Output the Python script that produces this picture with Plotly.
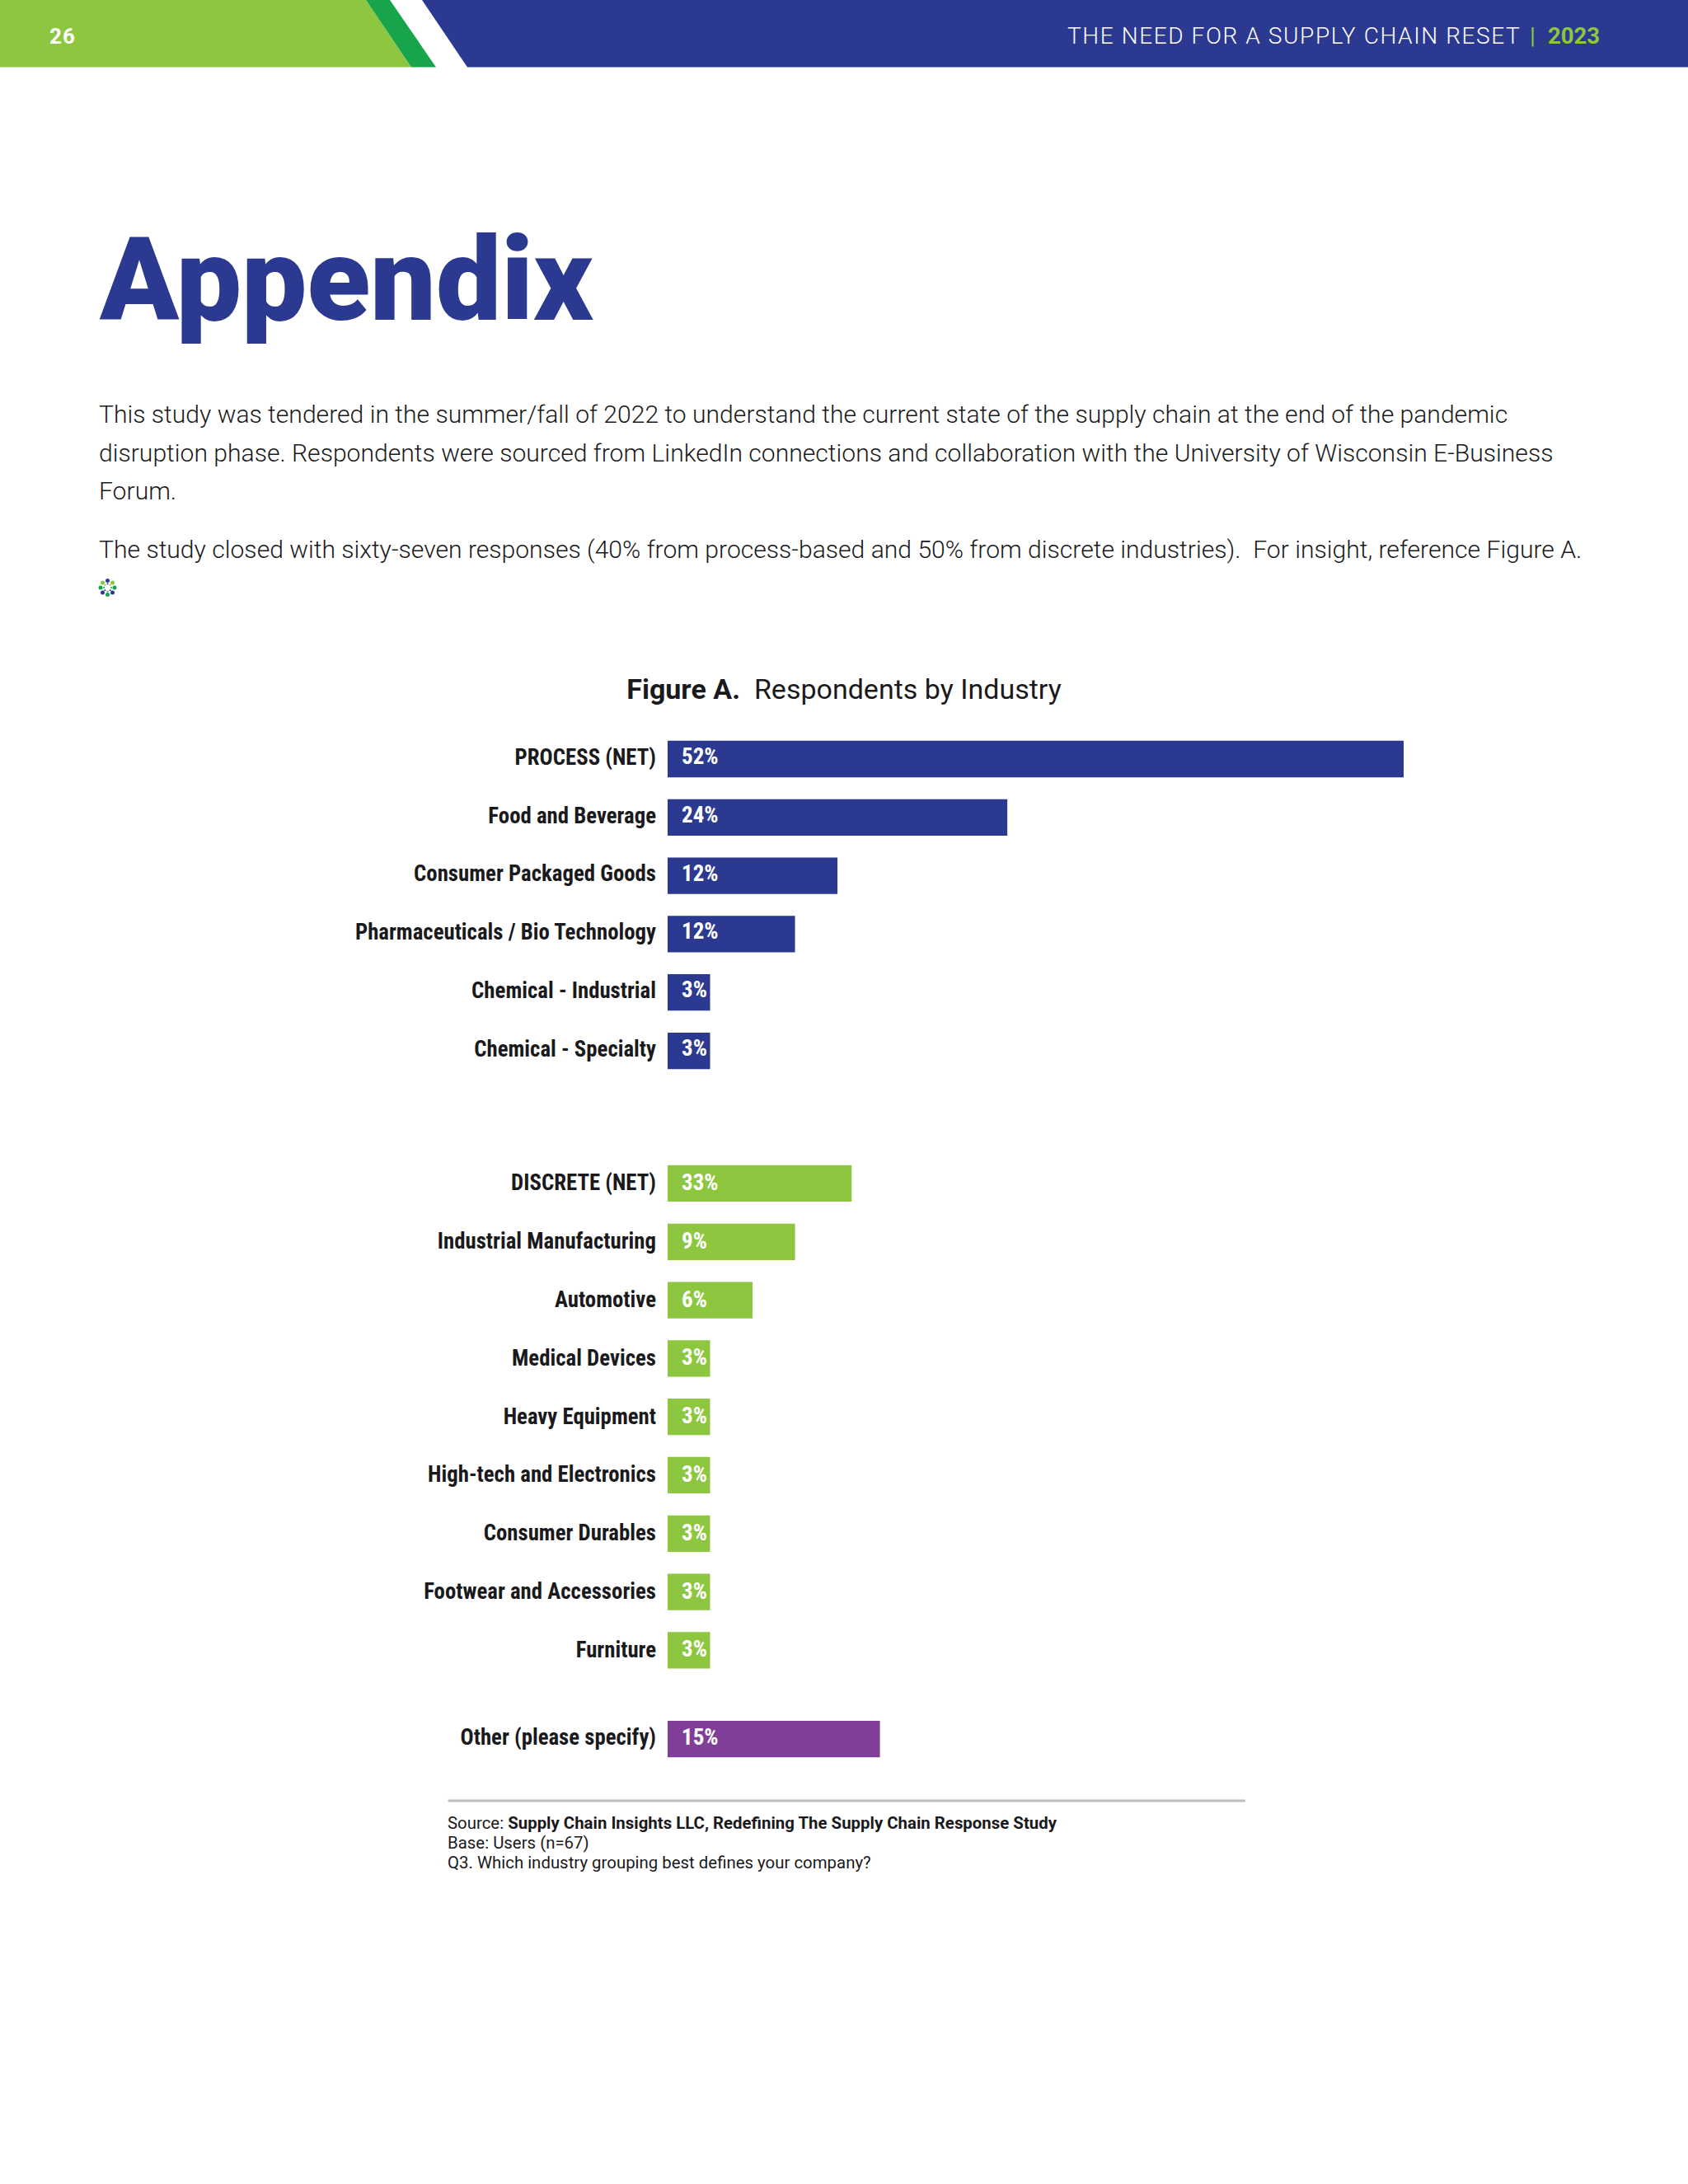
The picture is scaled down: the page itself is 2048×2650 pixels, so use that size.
import math
import plotly.graph_objects as go

W, H = 2048, 2650

process_categories = ["PROCESS (NET)", "Food and Beverage", "Consumer Packaged Goods",
                      "Pharmaceuticals / Bio Technology", "Chemical - Industrial", "Chemical - Specialty"]
process_values = [52, 24, 12, 9, 3, 3]
process_labels = ["52%", "24%", "12%", "12%", "3%", "3%"]

discrete_categories = ["DISCRETE (NET)", "Industrial Manufacturing", "Automotive", "Medical Devices",
                       "Heavy Equipment", "High-tech and Electronics", "Consumer Durables",
                       "Footwear and Accessories", "Furniture"]
discrete_values = [13, 9, 6, 3, 3, 3, 3, 3, 3]
discrete_labels = ["33%", "9%", "6%", "3%", "3%", "3%", "3%", "3%", "3%"]

other_categories = ["Other (please specify)"]
other_values = [15]
other_labels = ["15%"]

NAVY, GREEN, DGREEN, PURPLE = "#2B3990", "#8DC63F", "#17A44B", "#7F3F98"
INK = "#1A1A1C"
FONT = "Roboto"

def px(x): return x / W
def py(y): return 1 - y / H

PITCH = 70.8
groups = [
    (process_categories, process_values, process_labels, NAVY, 921.0, "y", 3),
    (discrete_categories, discrete_values, discrete_labels, GREEN, 1436.0, "y2", 1),
    (other_categories, other_values, other_labels, PURPLE, 2110.0, "y3", 2),
]

fig = go.Figure()
annotations = []
layout_axes = {}
for cats, vals, labs, color, first_center, yname, label_shift in groups:
    fig.add_trace(go.Bar(y=cats, x=vals, orientation="h", marker=dict(color=color, line=dict(width=0)),
                         xaxis="x", yaxis=yname, width=0.625, hoverinfo="skip"))
    top = first_center - PITCH / 2
    bottom = top + PITCH * len(cats)
    key = "yaxis" if yname == "y" else "yaxis" + yname[1:]
    layout_axes[key] = dict(domain=[py(bottom), py(top)], anchor="x", autorange="reversed",
                            type="category", showgrid=False, zeroline=False, showline=False,
                            ticks="", ticklabelstandoff=13,
                            tickfont=dict(family=FONT, size=26.8, color=INK, weight=700))
    for c, l in zip(cats, labs):
        annotations.append(dict(xref="x", yref=yname, x=0, y=c, text=l, showarrow=False, xanchor="left",
                                align="left", xshift=15, yshift=label_shift,
                                font=dict(family=FONT, size=27, color="white", weight=700)))

def note(x, y, text, size, color=INK, family="Roboto", weight=300):
    annotations.append(dict(xref="paper", yref="paper", x=px(x), y=py(y), text=text, showarrow=False,
                            xanchor="left", yanchor="middle", align="left", borderpad=0, borderwidth=0,
                            font=dict(family=family, size=size, color=color, weight=weight)))

note(60, 44, "26", 26, "white", weight=700)
note(1295, 44, "THE NEED FOR A SUPPLY CHAIN RESET", 28, "white", weight=300)
note(1856, 44, "|", 28, GREEN, weight=400)
note(1878, 44, "2023", 27.5, GREEN, weight=700)
note(120, 340, "Appendix", 141, NAVY, weight=900)

BODY = 30.1
note(120, 502, "This study was tendered in the summer/fall of 2022 to understand the current state of the supply chain at the end of the pandemic", BODY)
note(120, 549, "disruption phase. Respondents were sourced from LinkedIn connections and collaboration with the University of Wisconsin E-Business", BODY)
note(120, 595, "Forum.", BODY)
note(120, 667, "The study closed with sixty-seven responses (40% from process-based and 50% from discrete industries).\u00a0\u00a0For insight, reference Figure A.", BODY)

note(543, 2212, "Source: <b>Supply Chain Insights LLC, Redefining The Supply Chain Response Study</b>", 20.4, weight=400)
note(543, 2236, "Base: Users (n=67)", 20.4, weight=400)
note(543, 2260, "Q3. Which industry grouping best defines your company?", 20.4, weight=400)

def poly(points, color):
    path = "M " + " L ".join(f"{px(x)},{py(y)}" for x, y in points) + " Z"
    return dict(type="path", xref="paper", yref="paper", path=path, fillcolor=color, line=dict(width=0), layer="below")

HB = 81.5
shapes = [
    poly([(0, 0), (444, 0), (499, HB), (0, HB)], GREEN),
    poly([(444, 0), (473, 0), (529, HB), (499, HB)], DGREEN),
    poly([(512, 0), (W, 0), (W, HB), (567, HB)], NAVY),
    dict(type="line", xref="paper", yref="paper", x0=px(543.5), x1=px(1511), y0=py(2185), y1=py(2185),
         line=dict(color="#BCBEC0", width=3)),
]

# small decorative snowflake mark after the body text
cx, cy = 130.5, 713
flake = [NAVY, GREEN, DGREEN, NAVY, DGREEN, NAVY, DGREEN, GREEN]
for i, col in enumerate(flake):
    a = math.radians(90 - 45 * i)
    for r, s in ((8.5, 2.5), (4.5, 1.0)):
        x = cx + r * math.cos(a)
        y = cy - r * math.sin(a)
        shapes.append(dict(type="circle", xref="paper", yref="paper", x0=px(x - s), x1=px(x + s),
                           y0=py(y + s), y1=py(y - s), fillcolor=col, line=dict(width=0)))

fig.update_layout(
    width=W, height=H, margin=dict(l=0, r=0, t=0, b=0, pad=0),
    paper_bgcolor="white", plot_bgcolor="white", showlegend=False, hovermode=False,
    title=dict(text="<b>Figure A.</b>\u00a0\u00a0Respondents by Industry", x=1024 / W, xanchor="center", xref="paper",
               y=py(836), yanchor="middle", yref="paper",
               font=dict(family="Roboto", size=34, color=INK, weight=400)),
    xaxis=dict(domain=[px(810), px(1703)], range=[0, 52], visible=False, fixedrange=True),
    annotations=annotations, shapes=shapes, **layout_axes,
)

post = """
document.body.style.margin = '0';
var gd = document.querySelector('.plotly-graph-div');
gd.querySelectorAll('.annotation-text').forEach(function (t) {
  var s = t.textContent;
  if (s.startsWith('THE NEED')) t.style.letterSpacing = '1.6px';
  if (s === '26') t.style.letterSpacing = '1px';
  if (s === '2023') t.style.fontStretch = '88%';
  if (/^[0-9]+%$/.test(s)) t.style.fontStretch = '75%';
});
gd.querySelectorAll('.yaxislayer-above').forEach(function (g) {
  var second = g.querySelector('.y2tick');
  g.setAttribute('transform', 'translate(0,' + (second ? -1 : -2.5) + ')');
  g.querySelectorAll('text').forEach(function (t) { t.style.fontStretch = '75%'; });
});
"""
fig.write_html("out.html", config={"displayModeBar": False, "responsive": False}, post_script=post)
